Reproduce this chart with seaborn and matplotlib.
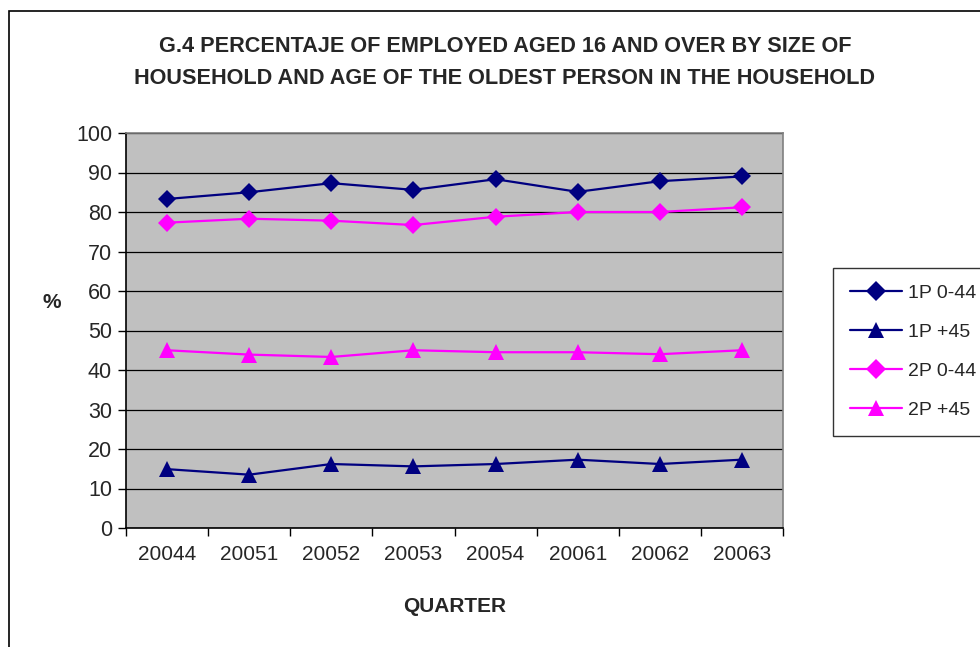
import pandas as pd
import matplotlib.pyplot as plt
import matplotlib.patches as patches
import seaborn as sns

# datos
trimestres = ['20044', '20051', '20052', '20053', '20054', '20061', '20062', '20063']
p1_0_44 = [83.3, 85.0, 87.3, 85.6, 88.3, 85.1, 87.8, 89.0]
p1_45 = [14.9, 13.5, 16.2, 15.6, 16.2, 17.3, 16.2, 17.3]
p2_0_44 = [77.3, 78.3, 77.8, 76.7, 78.8, 80.0, 80.0, 81.2]
p2_45 = [45.0, 43.9, 43.3, 45.0, 44.5, 44.5, 44.0, 45.0]
series = ['1P 0-44', '1P +45', '2P 0-44', '2P +45']

# ======================
# tabla larga para seaborn
# ======================
filas = []
for nombre, valores in zip(series, [p1_0_44, p1_45, p2_0_44, p2_45]):
    for i, v in enumerate(valores):
        filas.append({'pos': i, 'serie': nombre, 'valor': v})
df = pd.DataFrame(filas)

sns.set_theme(style="white")
plt.rcParams['font.family'] = ['Liberation Sans', 'DejaVu Sans']

fig = plt.figure(figsize=(9.8, 6.47), dpi=100)
ax = fig.add_axes([126 / 980, 1 - 528 / 647, 657 / 980, 395 / 647])
ax.set_facecolor('#C0C0C0')

colores = {'1P 0-44': '#000080', '1P +45': '#000080',
           '2P 0-44': '#FF00FF', '2P +45': '#FF00FF'}
marcas = {'1P 0-44': 'D', '1P +45': '^', '2P 0-44': 'D', '2P +45': '^'}
tamanos = {'D': 9, '^': 11}

for s in series:
    sns.lineplot(data=df[df['serie'] == s], x='pos', y='valor', color=colores[s],
                 marker=marcas[s], markersize=tamanos[marcas[s]], markeredgewidth=0,
                 linewidth=1.6, ax=ax, legend=False)

# eje y
ax.set_ylim(0, 100)
ax.set_yticks(range(0, 101, 10))
ax.yaxis.grid(True, color='black', linewidth=0.9)
ax.set_axisbelow(True)

# eje x estilo excel: marcas entre categorias
ax.set_xlim(-0.5, 7.5)
ax.set_xticks([i - 0.5 for i in range(9)])
ax.set_xticklabels([])
ax.set_xticks(range(8), minor=True)
ax.set_xticklabels(trimestres, minor=True, fontsize=15)
ax.tick_params(axis='x', which='minor', length=0, pad=12)
ax.tick_params(axis='x', which='major', length=6, width=1, color='black', direction='out', bottom=True)
ax.tick_params(axis='y', length=6, width=1, color='black', direction='out', left=True, labelsize=15.5, pad=4)

for lado in ['top', 'right', 'left', 'bottom']:
    ax.spines[lado].set_color('#808080')
    ax.spines[lado].set_linewidth(1.2)
ax.spines['left'].set_color('black')
ax.spines['bottom'].set_color('black')

ax.set_xlabel('')
ax.set_ylabel('')
fig.text(52 / 980, 1 - 302 / 647, '%', fontsize=15, fontweight='bold', ha='center', va='center')
fig.text(455 / 980, 1 - 607 / 647, 'QUARTER', fontsize=15, fontweight='bold', ha='center', va='center')

fig.text(505 / 980, 1 - 46 / 647, 'G.4 PERCENTAJE OF EMPLOYED AGED 16 AND OVER BY SIZE OF',
         fontsize=15.6, fontweight='bold', ha='center', va='center')
fig.text(505 / 980, 1 - 78 / 647, 'HOUSEHOLD AND AGE OF THE OLDEST PERSON IN THE HOUSEHOLD',
         fontsize=15.6, fontweight='bold', ha='center', va='center')

# leyenda
manejadores = [plt.Line2D([], [], color=colores[s], marker=marcas[s],
                          markersize=tamanos[marcas[s]] + 1,
                          markeredgewidth=0, linewidth=1.6) for s in series]
leg = fig.legend(manejadores, series, loc='upper left',
                 bbox_to_anchor=(833 / 980, 1 - 268 / 647), fontsize=14,
                 frameon=True, fancybox=False, borderpad=0.85, labelspacing=1.1,
                 handlelength=2.7, handletextpad=0.3, borderaxespad=0)
leg.get_frame().set_edgecolor('black')
leg.get_frame().set_linewidth(1)

# borde exterior
fig.patches.append(patches.Rectangle((9 / 980, -0.1), 1.2, 1 - 11 / 647 + 0.1,
                                     transform=fig.transFigure, fill=False,
                                     edgecolor='black', linewidth=1.2))

fig.savefig('out.png', dpi=100)
